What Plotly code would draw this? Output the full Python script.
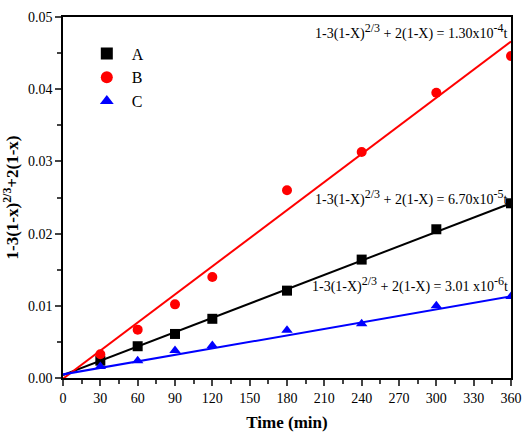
import plotly.graph_objects as go

time = [30, 60, 90, 120, 180, 240, 300, 360]
a_vals = [0.0024, 0.0044, 0.0061, 0.0082, 0.0121, 0.0164, 0.0206, 0.0242]
b_vals = [0.0033, 0.0067, 0.0102, 0.0140, 0.0260, 0.0313, 0.0395, 0.0446]
c_vals = [0.0016, 0.0024, 0.0038, 0.0045, 0.0066, 0.0075, 0.0100, 0.0113]

fit_t = [0, 360]
a_fit = [0.0004, 0.0242]
b_fit = [-0.0001, 0.0466]
c_fit = [0.0005, 0.0113]

names = ["A", "B", "C"]
colors = ["#000000", "#ff0000", "#0000ff"]
symbols = ["square", "circle", "triangle-up"]
SUP = "<sup><span style='font-size:12px'>{}</span></sup>"
eq_labels = [
    "1-3(1-X)" + SUP.format("2/3") + " + 2(1-X) = 6.70x10" + SUP.format("-5") + "t",
    "1-3(1-X)" + SUP.format("2/3") + " + 2(1-X) = 1.30x10" + SUP.format("-4") + "t",
    "1-3(1-X)" + SUP.format("2/3") + " + 2(1-X) = 3.01 x10" + SUP.format("-6") + "t",
]
eq_y = [0.0233, 0.0462, 0.0112]

FONT = "Liberation Serif, Times New Roman, serif"
fig = go.Figure()
for vals, fit, name, col, sym in zip([a_vals, b_vals, c_vals], [a_fit, b_fit, c_fit], names, colors, symbols):
    fig.add_trace(go.Scatter(x=fit_t, y=fit, mode="lines", line=dict(color=col, width=2),
                             showlegend=False, hoverinfo="skip"))
    fig.add_trace(go.Scatter(x=time, y=vals, mode="markers", name=name,
                             marker=dict(color=col, symbol=sym, size=10)))

for txt, yy in zip(eq_labels, eq_y):
    fig.add_annotation(x=359, y=yy, xref="x", yref="y", text=txt, showarrow=False,
                       xanchor="right", yanchor="bottom", font=dict(family=FONT, size=14, color="black"))

fig.update_layout(
    width=524, height=447,
    margin=dict(l=63, r=13, t=17, b=69),
    paper_bgcolor="white", plot_bgcolor="white",
    font=dict(family=FONT, size=14, color="black"),
    legend=dict(x=0.042, y=0.946, xanchor="left", yanchor="top", bgcolor="rgba(0,0,0,0)",
                font=dict(family=FONT, size=16), itemsizing="constant", tracegroupgap=0,
                itemwidth=40),
    showlegend=True,
)
fig.update_xaxes(range=[0, 360], tickvals=list(range(0, 361, 30)), ticks="outside", ticklen=6,
                 tickwidth=1.5, showline=True, linecolor="black", linewidth=1.5, mirror=True,
                 showgrid=False, zeroline=False, automargin=False,
                 minor=dict(ticks="outside", ticklen=4, tickwidth=1.5, dtick=15, tick0=0, showgrid=False),
                 title=dict(text="<b>Time (min)</b>", font=dict(family=FONT, size=17), standoff=12),
                 tickfont=dict(family=FONT, size=14))
fig.update_yaxes(range=[0, 0.05], tickvals=[0, 0.01, 0.02, 0.03, 0.04, 0.05], tickformat=".2f",
                 ticks="outside", ticklen=6, tickwidth=1.5, showline=True, linecolor="black", linewidth=1.5,
                 mirror=True, showgrid=False, zeroline=False, automargin=False,
                 minor=dict(ticks="outside", ticklen=4, tickwidth=1.5, dtick=0.005, tick0=0, showgrid=False),
                 title=dict(text="<b>1-3(1-x)<sup>2/3</sup>+2(1-x)</b>", font=dict(family=FONT, size=17), standoff=6),
                 tickfont=dict(family=FONT, size=14))

fig.write_html("out.html")
